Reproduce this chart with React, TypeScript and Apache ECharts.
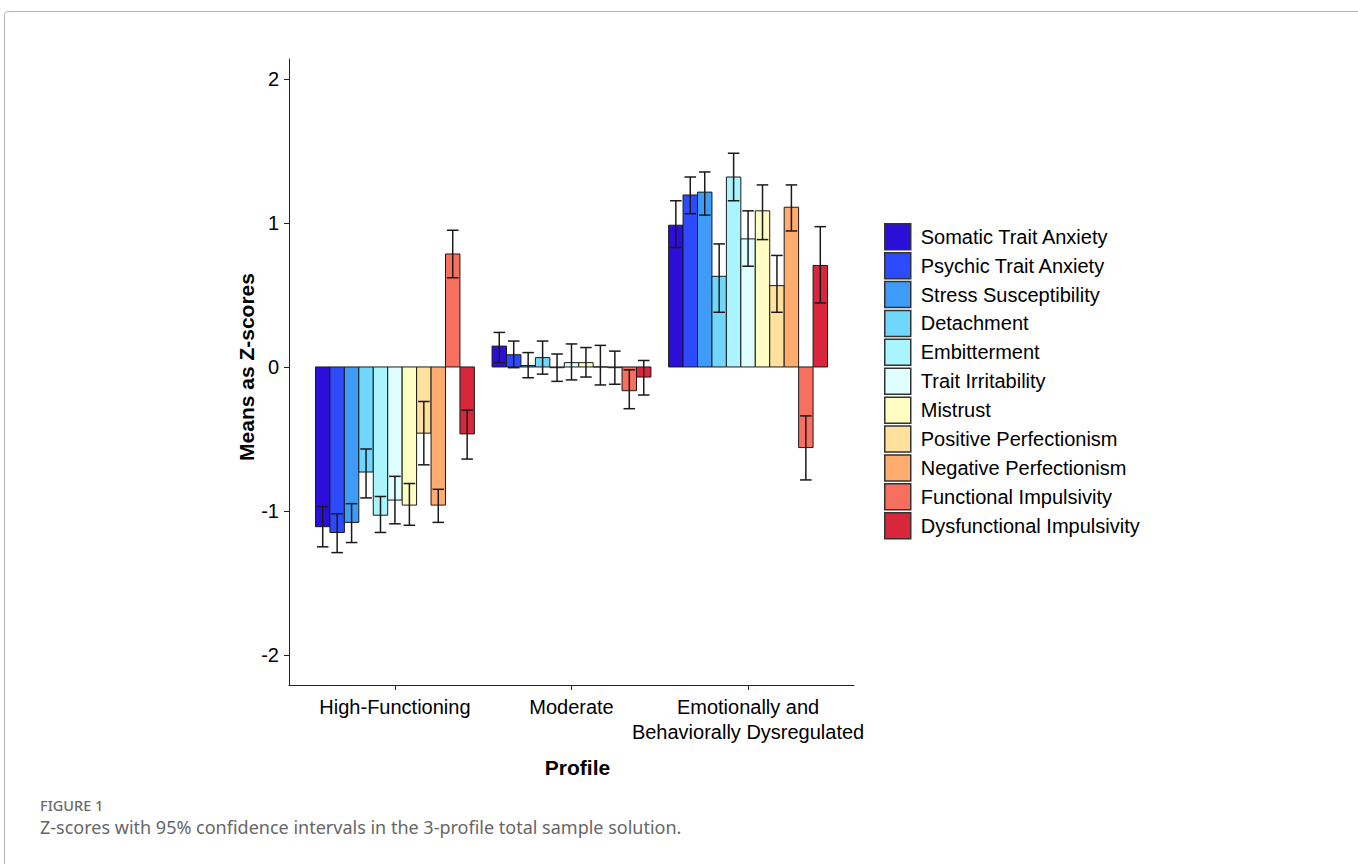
import React, { useEffect, useRef } from "react";
import * as echarts from "echarts";

const profiles = ["High-Functioning", "Moderate", "Emotionally and\nBehaviorally Dysregulated"];
const variables = [
  "Somatic Trait Anxiety",
  "Psychic Trait Anxiety",
  "Stress Susceptibility",
  "Detachment",
  "Embitterment",
  "Trait Irritability",
  "Mistrust",
  "Positive Perfectionism",
  "Negative Perfectionism",
  "Functional Impulsivity",
  "Dysfunctional Impulsivity",
];
const colors = [
  "#2B0FD8", "#2C4BFE", "#3E9CF6", "#70D6FB", "#A9F4FD", "#DEFEFF",
  "#FFFDC1", "#FFE09C", "#FFAC6E", "#F66F5F", "#D8273A",
];

// Means (z-scores) per profile, in variable order
const meanHF = [-1.11, -1.15, -1.08, -0.73, -1.03, -0.925, -0.96, -0.46, -0.96, 0.785, -0.465];
const lowHF = [-1.25, -1.29, -1.22, -0.91, -1.15, -1.09, -1.1, -0.68, -1.08, 0.62, -0.64];
const highHF = [-0.97, -1.02, -0.95, -0.57, -0.9, -0.76, -0.81, -0.24, -0.85, 0.95, -0.3];

const meanMod = [0.145, 0.085, 0.01, 0.065, -0.005, 0.03, 0.03, 0.0, -0.005, -0.165, -0.07];
const lowMod = [0.03, -0.005, -0.075, -0.05, -0.1, -0.09, -0.07, -0.125, -0.12, -0.29, -0.195];
const highMod = [0.24, 0.18, 0.1, 0.18, 0.09, 0.16, 0.135, 0.15, 0.11, -0.02, 0.045];

const meanEBD = [0.985, 1.195, 1.215, 0.63, 1.32, 0.89, 1.085, 0.565, 1.11, -0.56, 0.705];
const lowEBD = [0.83, 1.065, 1.055, 0.38, 1.155, 0.7, 0.885, 0.38, 0.945, -0.785, 0.445];
const highEBD = [1.155, 1.32, 1.355, 0.855, 1.485, 1.085, 1.265, 0.775, 1.265, -0.34, 0.975];

const yTicks = [-2, -1, 0, 1, 2];

const FONT = "'Liberation Sans', Arial, Helvetica, sans-serif";

export default function App() {
  const ref = useRef<HTMLDivElement>(null);

  useEffect(() => {
    if (!ref.current) return;
    const chart = echarts.init(ref.current, undefined, { renderer: "svg" });
    const N = variables.length;
    const means = [meanHF, meanMod, meanEBD];
    const lows = [lowHF, lowMod, lowEBD];
    const highs = [highHF, highMod, highEBD];

    const series = variables.map((name, i) => ({
      name,
      type: "custom",
      itemStyle: { color: colors[i] },
      encode: { x: 0, y: [1, 2, 3] },
      data: profiles.map((_, g) => [g, means[g][i], lows[g][i], highs[g][i]]),
      renderItem: (params: any, api: any) => {
        const g = api.value(0);
        const m = api.value(1);
        const lo = api.value(2);
        const hi = api.value(3);
        const unit = api.size([1, 0])[0];
        const bw = (unit * 0.9) / N;
        const base = api.coord([g, 0]);
        const cx = base[0] + (i - (N - 1) / 2) * bw;
        const ym = api.coord([g, m])[1];
        const ylo = api.coord([g, lo])[1];
        const yhi = api.coord([g, hi])[1];
        const cap = bw * 0.4;
        const ls = { stroke: "#1a1a1a", lineWidth: 1.5 };
        return {
          type: "group",
          children: [
            {
              type: "rect",
              shape: { x: cx - bw / 2, y: Math.min(base[1], ym), width: bw, height: Math.abs(ym - base[1]) },
              style: { fill: colors[i], stroke: "#1a1a1a", lineWidth: 1 },
            },
            { type: "line", shape: { x1: cx, y1: ylo, x2: cx, y2: yhi }, style: ls },
            { type: "line", shape: { x1: cx - cap, y1: ylo, x2: cx + cap, y2: ylo }, style: ls },
            { type: "line", shape: { x1: cx - cap, y1: yhi, x2: cx + cap, y2: yhi }, style: ls },
          ],
        };
      },
    }));

    chart.setOption({
      animation: false,
      color: colors,
      textStyle: { fontFamily: FONT },
      grid: { left: 289, top: 59, width: 565, height: 626, containLabel: false },
      xAxis: {
        type: "value",
        min: -0.6,
        max: 2.6,
        splitLine: { show: false },
        axisLine: { show: true, onZero: false, lineStyle: { color: "#222", width: 1 } },
        axisTick: { show: true, customValues: [0, 1, 2], length: 5, lineStyle: { color: "#222" } },
        axisLabel: {
          customValues: [0, 1, 2],
          formatter: (v: number) => profiles[Math.round(v)] ?? "",
          fontSize: 20,
          lineHeight: 25,
          color: "#000",
          margin: 9,
          fontFamily: FONT,
        },
        name: "Profile",
        nameLocation: "middle",
        nameGap: 72,
        nameTextStyle: { fontSize: 21, fontWeight: "bold", color: "#000", fontFamily: FONT, padding: [0, 0, 0, 12] },
      },
      yAxis: {
        type: "value",
        min: -2.21,
        max: 2.14,
        splitLine: { show: false },
        axisLine: { show: true, onZero: false, lineStyle: { color: "#222", width: 1 } },
        axisTick: { show: true, customValues: yTicks, length: 5, lineStyle: { color: "#222" } },
        axisLabel: {
          customValues: yTicks,
          formatter: (v: number) => String(v),
          fontSize: 20,
          color: "#000",
          margin: 10,
          fontFamily: FONT,
        },
        name: "Means as Z-scores",
        nameLocation: "middle",
        nameGap: 30,
        nameTextStyle: { fontSize: 21, fontWeight: "bold", color: "#000", fontFamily: FONT, padding: [0, 0, 0, 10] },
      },
      legend: {
        data: variables,
        orient: "vertical",
        left: 884,
        top: 223,
        padding: 0,
        itemWidth: 26,
        itemHeight: 26,
        itemGap: 1.4,
        icon: "rect",
        selectedMode: false,
        itemStyle: { borderColor: "#333", borderWidth: 1.5 },
        textStyle: { fontSize: 20, lineHeight: 20, color: "#000", fontFamily: FONT, padding: [0, 0, 0, 5] },
      },
      graphic: [
        {
          type: "rect",
          shape: { x: 4.5, y: 11.5, width: 1500, height: 1000, r: 4 },
          style: { fill: "none", stroke: "#b5b5b5", lineWidth: 1 },
          silent: true,
        },
        {
          type: "text",
          left: 40,
          top: 797,
          style: { text: "FIGURE 1", fontSize: 14.5, fontWeight: 500, fill: "#6a6a6a", fontFamily: "'Noto Sans', sans-serif" },
        },
        {
          type: "text",
          left: 40,
          top: 818,
          style: {
            text: "Z-scores with 95% confidence intervals in the 3-profile total sample solution.",
            fontSize: 18,
            fill: "#666",
            fontFamily: "'Noto Sans', sans-serif",
          },
        },
      ],
      series,
    });

    return () => chart.dispose();
  }, []);

  return (
    <div
      ref={ref}
      style={{ position: "fixed", left: 0, top: 0, width: 1358, height: 864, background: "#fff" }}
    />
  );
}
